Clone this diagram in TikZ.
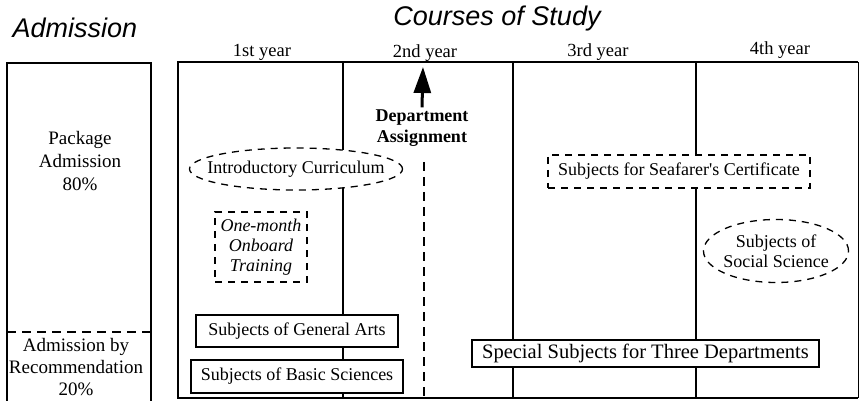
\documentclass[tikz,border=0pt]{standalone}
\usepackage{fontspec}
\setmainfont{Liberation Serif}
\newfontfamily\headfont{Liberation Sans}
\usetikzlibrary{arrows.meta,positioning,shapes.geometric}

\begin{document}
\begin{tikzpicture}[x=1pt,y=-1pt,
  title/.style={font=\headfont\itshape\fontsize{27}{30}\selectfont},
  year/.style={font=\fontsize{18.5}{21}\selectfont},
  body/.style={font=\fontsize{18}{21}\selectfont,align=center},
  subj/.style={draw,line width=1.3pt,fill=white,inner sep=0pt,font=\fontsize{18}{20}\selectfont},
  dashbox/.style={subj,dash pattern=on 7pt off 6pt},
  oval/.style={dashbox,ellipse},
  frame/.style={line width=2.2pt},
  sep/.style={line width=1.5pt}]
\useasboundingbox (0,0) rectangle (860,401);
% Headings
\node[title] (admtitle) at (75,28) {Admission};
\node[title] (studytitle) at (497,19) {Courses of Study};
% Year labels over the columns
\foreach \name/\xx/\yy/\lbl in {first/262/52/1st, second/425/53/2nd, third/598/52/3rd, fourth/780/50/4th}
  \node[year] (\name) at (\xx,\yy) {\lbl{} year};
% Admission box
\draw[sep] (7,63) rectangle (151,402);
\draw[sep,dash pattern=on 9pt off 6pt] (7,332) -- (151,332);
\node[body,font=\fontsize{19}{23}\selectfont] (package) at (80,161) {Package\\Admission\\80\%};
\node[body,font=\fontsize{19}{22}\selectfont] (recomm) at (76,367) {Admission by\\Recommendation\\20\%};
% Courses frame and year columns
\draw[frame] (858,62) -- (178,62) -- (178,398) -- (858,398);
\draw[line width=0.8pt] (858.5,62) -- (858.5,398);
\foreach \xx in {343,513,696}
  \draw[sep] (\xx,62) -- (\xx,398);
\draw[sep,dash pattern=on 9pt off 6pt] (424,162) -- (424,398);
% Department assignment
\node[body,inner sep=2pt,font=\fontsize{18}{21}\selectfont\bfseries] (dept) at (422,128) {Department\\Assignment};
\coordinate (depttop) at (423,67);
\draw[-{Triangle[length=26pt,width=17pt]},line width=3pt] (dept.north) -- (depttop);
% Subjects
\node[oval,minimum width=213pt,minimum height=42pt,label={[body]center:Introductory Curriculum}] (intro) at (296,169) {};
\node[dashbox,minimum width=262pt,minimum height=33pt] (seafarer) at (679,171.5) {Subjects for Seafarer\textquotesingle s Certificate};
\node[oval,minimum width=145pt,minimum height=63pt,label={[body,font=\fontsize{18}{20}\selectfont]center:Subjects of\\Social Science}] (social) at (776,251) {};
\node[dashbox,minimum width=92pt,minimum height=70pt,align=center,font=\itshape\fontsize{18}{20}\selectfont] (onboard) at (261,247) {One-month\\Onboard\\Training};
\node[subj,minimum width=202pt,minimum height=32pt] (arts) at (297,331) {Subjects of General Arts};
\node[subj,minimum width=212pt,minimum height=33pt] (basic) at (297,376.5) {Subjects of Basic Sciences};
\node[subj,minimum width=347pt,minimum height=27pt,font=\fontsize{20.5}{22}\selectfont] (special) at (645.5,353.5) {Special Subjects for Three Departments};
\end{tikzpicture}
\end{document}
